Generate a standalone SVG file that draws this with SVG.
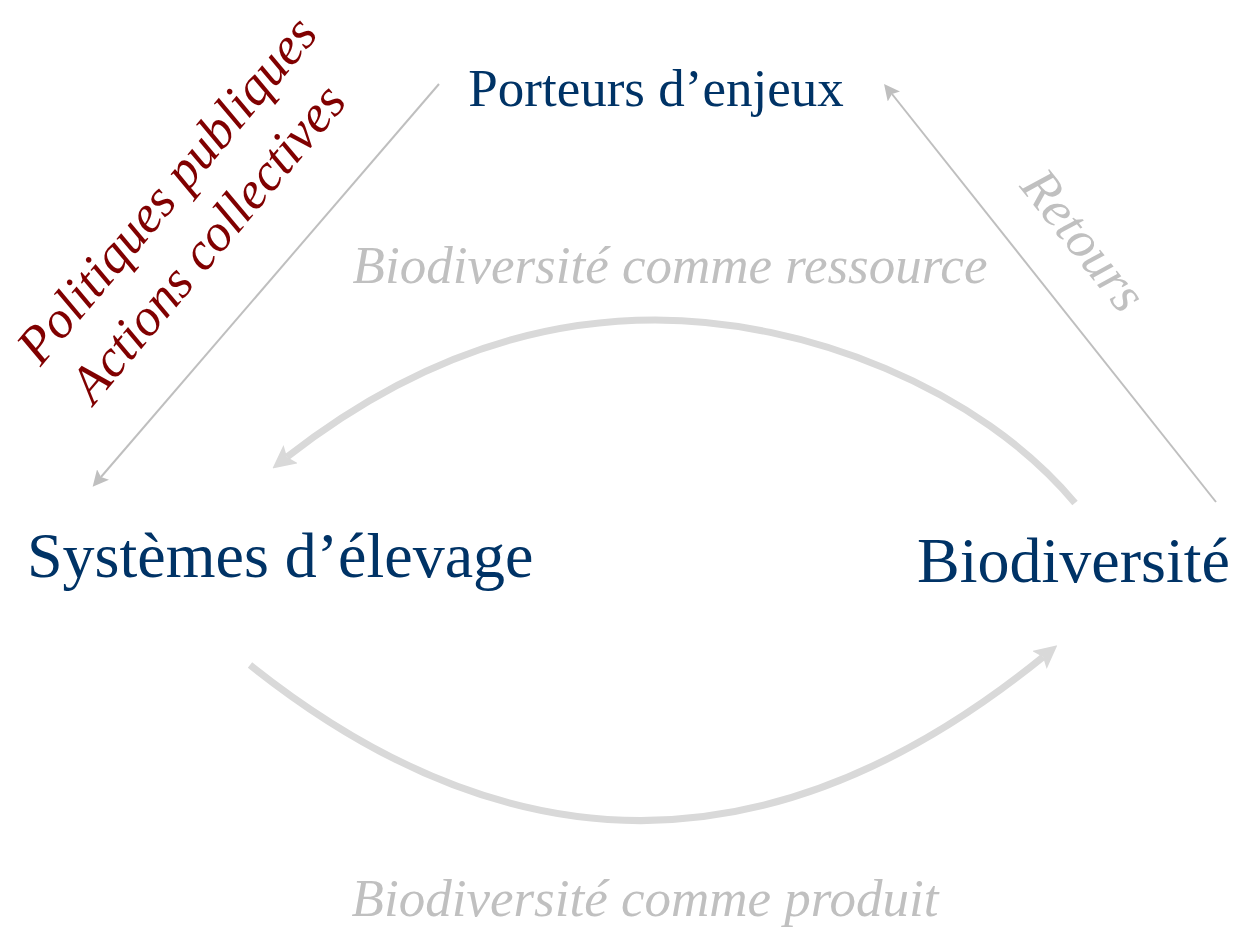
<svg xmlns="http://www.w3.org/2000/svg" width="1236" height="927" viewBox="0 0 1236 927">
<style>
.node{font-family:"Liberation Serif","Times New Roman",serif;fill:#003366;}
.lbl{font-family:"Liberation Serif","Times New Roman",serif;font-style:italic;font-size:53px;}
.gray{fill:#c0c0c0;}
.red{fill:#800000;}
.thin{stroke:#bfbfbf;stroke-width:2;fill:none;}
.thick{stroke:#d9d9d9;stroke-width:7;fill:none;}
</style>
<defs>
<marker id="ah" viewBox="0 0 10 10" refX="2" refY="5" markerWidth="8" markerHeight="8" orient="auto" markerUnits="strokeWidth">
<path d="M0,0 L10,5 L0,10 L2,5 z" fill="#bfbfbf"/>
</marker>
<marker id="ahb" viewBox="0 0 10 10" refX="2" refY="5" markerWidth="3.3" markerHeight="3.3" orient="auto" markerUnits="strokeWidth">
<path d="M0,0 L10,5 L0,10 L2,5 z" fill="#d9d9d9"/>
</marker>
</defs>
<g id="connectors">
<path class="thin" d="M439,84 L101,477" marker-end="url(#ah)"/>
<path class="thin" d="M1216,502 L892,94" marker-end="url(#ah)"/>
<path class="thick" d="M1075,503 C979,388 805,320 655,320 C505,320 381.6,383 287,457" marker-end="url(#ahb)"/>
<path class="thick" d="M250,665 Q645,980 1043,657" marker-end="url(#ahb)"/>
</g>
<g id="porteurs"><text class="node" x="656" y="106" font-size="53" text-anchor="middle">Porteurs d’enjeux</text></g>
<g id="systemes"><text class="node" x="27" y="577" font-size="64">Systèmes d’élevage</text></g>
<g id="biodiversite"><text class="node" x="917" y="582" font-size="64">Biodiversité</text></g>
<g id="label-ressource"><text class="lbl gray" x="670" y="283" text-anchor="middle">Biodiversité comme ressource</text></g>
<g id="label-produit"><text class="lbl gray" x="645" y="916" text-anchor="middle">Biodiversité comme produit</text></g>
<g id="label-retours"><text class="lbl gray" text-anchor="middle" transform="translate(1070,251) rotate(51.5)">Retours</text></g>
<g id="label-politiques">
<text class="lbl red" text-anchor="middle" transform="translate(180,201) rotate(-50)">Politiques publiques</text>
<text class="lbl red" text-anchor="middle" transform="translate(221,254) rotate(-50)">Actions collectives</text>
</g>
</svg>
